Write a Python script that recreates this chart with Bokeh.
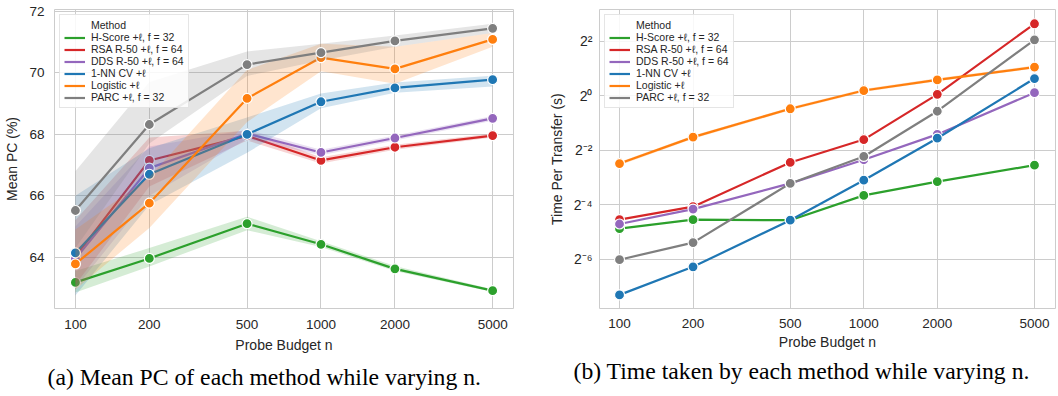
import numpy as np
from bokeh.plotting import figure
from bokeh.models import (Range1d, FixedTicker, NumeralTickFormatter, CustomJSTickFormatter,
                          Legend, LegendItem, Title)
from bokeh.layouts import row
from bokeh.embed import file_html
from bokeh.resources import INLINE

budgets = [100, 200, 500, 1000, 2000, 5000]
methods = ["H-Score +ℓ, f = 32", "RSA R-50 +ℓ, f = 64", "DDS R-50 +ℓ, f = 64",
           "1-NN CV +ℓ", "Logistic +ℓ", "PARC +ℓ, f = 32"]
colors = ["#2ca02c", "#d62728", "#9467bd", "#1f77b4", "#ff7f0e", "#7f7f7f"]

# (a) Mean PC (%) with confidence band
pc_hscore = [63.18, 63.96, 65.09, 64.42, 63.62, 62.91]
pc_hscore_lo = [62.85, 63.70, 64.88, 64.33, 63.55, 62.87]
pc_hscore_hi = [63.55, 64.30, 65.32, 64.52, 63.71, 62.96]
pc_rsa = [64.02, 67.15, 67.95, 67.15, 67.58, 67.96]
pc_rsa_lo = [63.10, 66.30, 67.80, 67.05, 67.50, 67.90]
pc_rsa_hi = [65.20, 67.90, 68.12, 67.25, 67.66, 68.03]
pc_dds = [63.95, 66.90, 68.02, 67.41, 67.88, 68.52]
pc_dds_lo = [63.00, 66.00, 67.85, 67.32, 67.80, 68.44]
pc_dds_hi = [65.00, 67.60, 68.15, 67.50, 67.96, 68.60]
pc_nn = [64.14, 66.70, 68.00, 69.06, 69.51, 69.78]
pc_nn_lo = [62.75, 65.70, 67.40, 68.85, 69.35, 69.56]
pc_nn_hi = [66.00, 67.55, 68.55, 69.33, 69.69, 69.91]
pc_log = [63.78, 65.76, 69.17, 70.50, 70.13, 71.09]
pc_log_lo = [62.95, 64.95, 68.40, 70.05, 69.65, 70.85]
pc_log_hi = [64.90, 66.60, 70.10, 70.95, 70.85, 71.30]
pc_parc = [65.52, 68.32, 70.27, 70.66, 71.04, 71.45]
pc_parc_lo = [64.30, 67.70, 69.90, 70.40, 70.85, 71.30]
pc_parc_hi = [66.80, 69.70, 70.70, 70.95, 71.22, 71.60]

# (b) Time per transfer (s)
t_hscore = [0.0342, 0.0430, 0.0424, 0.0797, 0.1134, 0.1720]
t_rsa = [0.0430, 0.0599, 0.1843, 0.3299, 1.0425, 6.277]
t_dds = [0.0385, 0.0563, 0.1081, 0.1975, 0.3763, 1.0870]
t_nn = [0.006346, 0.01296, 0.0424, 0.1174, 0.3415, 1.558]
t_log = [0.1793, 0.3511, 0.7222, 1.1487, 1.5053, 2.085]
t_log_lo = [0.1720, 0.3370, 0.6950, 1.1050, 1.4500, 2.010]
t_log_hi = [0.1870, 0.3660, 0.7500, 1.1950, 1.5650, 2.165]
t_parc = [0.01552, 0.02401, 0.1081, 0.2146, 0.6783, 4.170]

pc_means = [pc_hscore, pc_rsa, pc_dds, pc_nn, pc_log, pc_parc]
pc_los = [pc_hscore_lo, pc_rsa_lo, pc_dds_lo, pc_nn_lo, pc_log_lo, pc_parc_lo]
pc_his = [pc_hscore_hi, pc_rsa_hi, pc_dds_hi, pc_nn_hi, pc_log_hi, pc_parc_hi]
t_means = [t_hscore, t_rsa, t_dds, t_nn, t_log, t_parc]

pc_ticks = [64, 66, 68, 70, 72]
t_ticks = [2.0 ** -6, 2.0 ** -4, 2.0 ** -2, 1.0, 4.0]

FONT = "Liberation Sans"
GRID = "#cccccc"
TXT = "#262626"


def style(p, ylab_standoff, xlab_standoff, xaxis_label_standoff):
    p.outline_line_color = GRID
    p.outline_line_width = 1
    p.background_fill_color = "white"
    p.border_fill_color = "white"
    for ax in (p.xaxis[0], p.yaxis[0]):
        ax.axis_line_color = None
        ax.major_tick_line_color = None
        ax.minor_tick_line_color = None
        ax.major_tick_out = 0
        ax.major_tick_in = 0
        ax.minor_tick_out = 0
        ax.minor_tick_in = 0
        ax.major_label_text_font = FONT
        ax.major_label_text_font_size = "13.5px"
        ax.major_label_text_color = TXT
        ax.axis_label_text_font = FONT
        ax.axis_label_text_font_size = "14px"
        ax.axis_label_text_font_style = "normal"
        ax.axis_label_text_color = TXT
    p.yaxis[0].major_label_standoff = ylab_standoff
    p.xaxis[0].major_label_standoff = xlab_standoff
    p.yaxis[0].axis_label_standoff = 6
    p.xaxis[0].axis_label_standoff = xaxis_label_standoff
    p.xgrid.grid_line_color = GRID
    p.ygrid.grid_line_color = GRID
    p.xgrid.grid_line_width = 1
    p.ygrid.grid_line_width = 1


def legend_start(p):
    title_r = p.line([], [], line_alpha=0)
    return [LegendItem(label="Method", renderers=[title_r])]


def legend_finish(p, items):
    lg = Legend(items=items, location="top_left", margin=5, padding=4, spacing=0,
                glyph_width=21, glyph_height=11, label_height=11, label_standoff=6,
                label_text_font=FONT, label_text_font_size="10.5px",
                label_text_color=TXT, border_line_color=GRID, border_line_width=1,
                background_fill_color="white", background_fill_alpha=0.85)
    p.add_layout(lg)


def caption(p, text, offset, standoff):
    t = Title(text=text, align="left", offset=offset, standoff=standoff,
              text_font="Liberation Serif", text_font_size="23.7px",
              text_font_style="normal", text_color="black")
    p.add_layout(t, "below")


# ---------------- (a) ----------------
pa = figure(width=530, height=396, x_axis_type="log",
            x_range=Range1d(82.2, 6080), y_range=Range1d(62.33, 72.064),
            output_backend="svg", toolbar_location=None,
            min_border_left=54, min_border_right=17, min_border_top=7, min_border_bottom=85)
style(pa, 10, 11, 5)
pa.xaxis[0].ticker = FixedTicker(ticks=budgets)
pa.xaxis[0].formatter = NumeralTickFormatter(format="0")
pa.yaxis[0].ticker = FixedTicker(ticks=pc_ticks)
pa.xaxis[0].axis_label = "Probe Budget n"
pa.yaxis[0].axis_label = "Mean PC (%)"

items_a = legend_start(pa)
for name, col, m, lo, hi in zip(methods, colors, pc_means, pc_los, pc_his):
    pa.varea(x=budgets, y1=lo, y2=hi, fill_color=col, fill_alpha=0.2)
    r = pa.line(budgets, m, line_color=col, line_width=2.2)
    pa.scatter(budgets, m, size=10, fill_color=col, line_color="white", line_width=1.2)
    items_a.append(LegendItem(label=name, renderers=[r]))
legend_finish(pa, items_a)
caption(pa, "(a) Mean PC of each method while varying n.", -7, 12)

# ---------------- (b) ----------------
pb = figure(width=528, height=396, x_axis_type="log", y_axis_type="log",
            x_range=Range1d(82.8, 6095), y_range=Range1d(2.0 ** -7.8, 2.0 ** 3.174),
            output_backend="svg", toolbar_location=None,
            min_border_left=69, min_border_right=3, min_border_top=9, min_border_bottom=88)
style(pb, 7, 10, 3)
pb.xaxis[0].ticker = FixedTicker(ticks=budgets)
pb.xaxis[0].formatter = NumeralTickFormatter(format="0")
pb.yaxis[0].ticker = FixedTicker(ticks=t_ticks)
pb.yaxis[0].formatter = CustomJSTickFormatter(code="""
const e = Math.round(Math.log2(tick));
const sup = {"-": "\u207b", "0": "\u2070", "1": "\u00b9", "2": "\u00b2", "3": "\u00b3",
             "4": "\u2074", "5": "\u2075", "6": "\u2076", "7": "\u2077", "8": "\u2078", "9": "\u2079"};
return "2" + String(e).split("").map(c => sup[c]).join("");
""")
pb.yaxis[0].major_label_text_font_size = "14px"
pb.xaxis[0].axis_label = "Probe Budget n"
pb.yaxis[0].axis_label = "Time Per Transfer (s)"

items_b = legend_start(pb)
for name, col, m in zip(methods, colors, t_means):
    if m is t_log:
        pb.varea(x=budgets, y1=t_log_lo, y2=t_log_hi, fill_color=col, fill_alpha=0.25)
    r = pb.line(budgets, m, line_color=col, line_width=2.2)
    pb.scatter(budgets, m, size=10, fill_color=col, line_color="white", line_width=1.2)
    items_b.append(LegendItem(label=name, renderers=[r]))
legend_finish(pb, items_b)
caption(pb, "(b) Time taken by each method while varying n.", -26, 7)

layout = row(pa, pb)
open("out.html", "w").write(file_html(layout, INLINE))
